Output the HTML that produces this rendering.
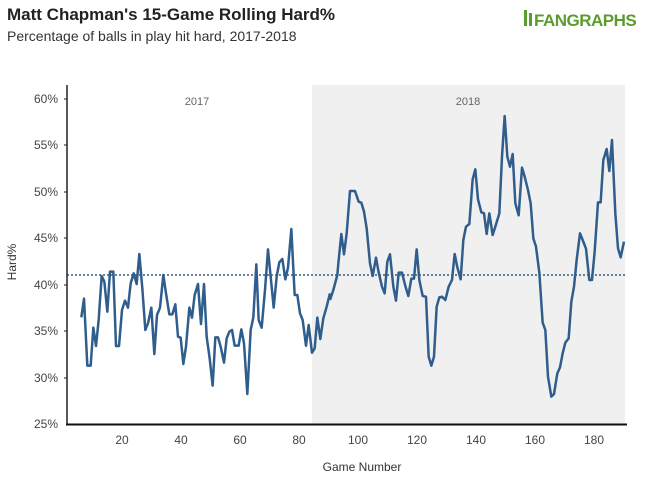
<!DOCTYPE html>
<html><head><meta charset="utf-8"><style>
body{margin:0;background:#fff;width:651px;height:489px;overflow:hidden;font-family:"Liberation Sans",sans-serif}
</style></head><body>
<svg width="651" height="489" xmlns="http://www.w3.org/2000/svg" font-family="Liberation Sans, sans-serif">
<rect width="651" height="489" fill="#fff"/>
<text x="7" y="20" font-size="17" font-weight="bold" fill="#222">Matt Chapman's 15-Game Rolling Hard%</text>
<text x="7" y="41" font-size="14" fill="#333">Percentage of balls in play hit hard, 2017-2018</text>
<g>
<rect x="524" y="10" width="3" height="16" fill="#5a9d2d"/>
<rect x="529" y="13" width="3" height="13" fill="#5a9d2d"/>
<text x="534" y="26" font-size="17" font-weight="bold" fill="#5a9d2d" letter-spacing="-0.5">FANGRAPHS</text>
</g>
<rect x="312" y="85" width="313" height="339" fill="#f0f0f0"/>
<text x="197" y="105" font-size="11" fill="#666" text-anchor="middle">2017</text>
<text x="468" y="105" font-size="11" fill="#666" text-anchor="middle">2018</text>
<line x1="67" y1="275" x2="627" y2="275" stroke="#3a5a7a" stroke-width="1.5" stroke-dasharray="2,2"/>
<line x1="67" y1="85" x2="67" y2="425" stroke="#222" stroke-width="1.5"/>
<line x1="66" y1="424.5" x2="627" y2="424.5" stroke="#111" stroke-width="2"/>
<g font-size="12" fill="#444" text-anchor="end">
<text x="58" y="103">60%</text><text x="58" y="149">55%</text><text x="58" y="196">50%</text><text x="58" y="242">45%</text><text x="58" y="289">40%</text><text x="58" y="335">35%</text><text x="58" y="382">30%</text><text x="58" y="428">25%</text>
</g>
<g stroke="#222" stroke-width="1"><line x1="64" y1="99" x2="67" y2="99"/><line x1="64" y1="145" x2="67" y2="145"/><line x1="64" y1="192" x2="67" y2="192"/><line x1="64" y1="238" x2="67" y2="238"/><line x1="64" y1="285" x2="67" y2="285"/><line x1="64" y1="331" x2="67" y2="331"/><line x1="64" y1="378" x2="67" y2="378"/></g>
<g font-size="12" fill="#444" text-anchor="middle">
<text x="122" y="444">20</text><text x="181" y="444">40</text><text x="240" y="444">60</text><text x="299" y="444">80</text><text x="358" y="444">100</text><text x="417" y="444">120</text><text x="476" y="444">140</text><text x="535" y="444">160</text><text x="594" y="444">180</text>
</g>
<text x="362" y="471" font-size="12" fill="#333" text-anchor="middle">Game Number</text>
<text transform="translate(16,262) rotate(-90)" font-size="12" fill="#333" text-anchor="middle">Hard%</text>
<g transform="translate(60,80) scale(0.33333)" fill="none" stroke="#2f5d8c" stroke-width="7.5" stroke-linejoin="round">
<polyline points="64,712 72,656 82,857 92,857 100,743 108,798 116,720 125,588 133,605 142,695 150,575 160,575 168,798 177,798 186,690 195,662 204,683 212,610 221,580 230,612 238,522 247,625 256,750 264,730 274,683 283,822 291,705 300,683 310,585 318,640 328,703 337,703 346,673 354,770 362,773 370,852 378,800 388,683 396,713 404,645 414,612 423,732 432,612 440,770 449,835 458,917 466,772 474,772 482,800 492,848 500,775 508,755 516,750 524,797 536,797 544,748 552,790 562,942 572,750 580,712 589,553 596,720 605,743 615,630 624,508 632,590 641,683 650,590 658,547 667,537 676,598 684,563 694,447 704,645 712,645 720,700 728,720 738,797 746,735 756,818 764,805 772,713 781,777 790,715 800,680 810,640"/>
</g>
<g transform="translate(300,80) scale(0.33333)" fill="none" stroke="#2f5d8c" stroke-width="7.5" stroke-linejoin="round">
<polyline points="90,660 100,630 112,585 115,550 124,462 132,523 140,460 150,333 165,333 176,365 184,368 192,395 200,445 210,550 218,588 228,533 236,577 246,620 254,640 262,545 270,523 280,620 288,662 296,578 306,578 316,618 325,648 334,596 342,596 350,508 358,600 368,648 378,650 386,830 394,857 402,830 410,680 418,652 426,650 436,660 446,620 456,600 464,522 472,562 482,598 490,480 498,440 508,432 518,298 526,268 534,358 544,397 552,400 560,462 568,400 578,465 586,440 598,400 606,230 614,108 622,230 630,260 638,222 646,370 656,406 666,263 674,290 684,330 692,370 700,475 708,500 718,578 728,728 736,750 744,890 754,950 762,942 772,880 780,862 788,820 796,788 806,775 814,665 822,620 830,540 840,460 848,480 858,506 868,600 876,600 884,515 894,367 902,367 910,240 920,207 928,273 936,180 946,400 954,505 962,532 972,485"/>
</g>
</svg>
</body></html>
